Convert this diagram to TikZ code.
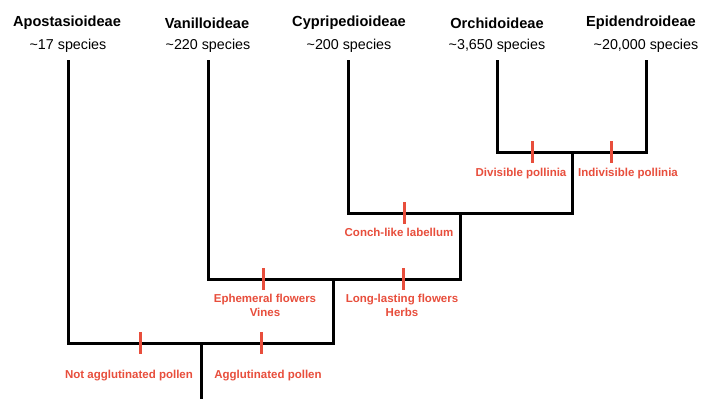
\documentclass[tikz,border=0pt]{standalone}
\usepackage{fontspec}
\setmainfont{Liberation Sans}
\definecolor{trait}{RGB}{232,78,60}
\begin{document}
\begin{tikzpicture}[x=1pt,y=-1pt,
  title/.style={font=\fontsize{14.6}{17}\selectfont\bfseries, inner sep=0pt},
  spec/.style={font=\fontsize{14.3}{17}\selectfont, inner sep=0pt},
  branch/.style={line width=3pt, line join=miter, draw=black},
  tick/.style={line width=3pt, draw=trait},
  lab/.style={font=\fontsize{11.5}{13.8}\selectfont\bfseries, text=trait, align=center, inner sep=0pt}]
\fill[white] (0,0) rectangle (705,399);
\useasboundingbox (0,0) rectangle (705,399);
% leaves
\node[title] (t1) at (67,23) {Apostasioideae};
\node[title] (t2) at (207,23) {Vanilloideae};
\node[title] (t3) at (349,23) {Cypripedioideae};
\node[title] (t4) at (497,23) {Orchidoideae};
\node[title] (t5) at (641,23) {Epidendroideae};
\node[spec] (s1) at (68,46) {\textasciitilde17 species};
\node[spec] (s2) at (208,46) {\textasciitilde220 species};
\node[spec] (s3) at (349,46) {\textasciitilde200 species};
\node[spec] (s4) at (497,46) {\textasciitilde3,650 species};
\node[spec] (s5) at (646,46) {\textasciitilde20,000 species};
% tree
\coordinate (l1) at (68,60);
\coordinate (l2) at (208,60);
\coordinate (l3) at (348,60);
\coordinate (l4) at (497,60);
\coordinate (l5) at (646,60);
\coordinate (n4) at (572,152);
\coordinate (n3) at (460,213);
\coordinate (n2) at (333,279);
\coordinate (n1) at (201,343);
\coordinate (root) at (201,399);
\draw[branch] (l4) |- (n4) -| (l5);
\draw[branch] (l3) |- (n3) -| (n4);
\draw[branch] (l2) |- (n2) -| (n3);
\draw[branch] (l1) |- (n1) -| (n2);
\draw[branch] (n1) -- (root);
% ticks
\foreach \nm/\px/\py in {kdiv/532/152, kind/611/152, kcon/404/213, keph/263/279, klong/403/279, knot/140/343, kagg/261/343}{
  \coordinate (\nm) at (\px,\py);
  \draw[tick] ([yshift=11pt]\nm) -- ([yshift=-11pt]\nm);
}
% labels
\node[lab] (ldiv) at (521,174) {Divisible pollinia};
\node[lab] (lind) at (628,174) {Indivisible pollinia};
\node[lab] (lcon) at (399,232) {Conch-like labellum};
\node[lab] (leph) at (265,305.5) {Ephemeral flowers\\Vines};
\node[lab] (llong) at (402,305.5) {Long-lasting flowers\\Herbs};
\node[lab] (lnot) at (129,376) {Not agglutinated pollen};
\node[lab] (lagg) at (268,376) {Agglutinated pollen};
\end{tikzpicture}
\end{document}
